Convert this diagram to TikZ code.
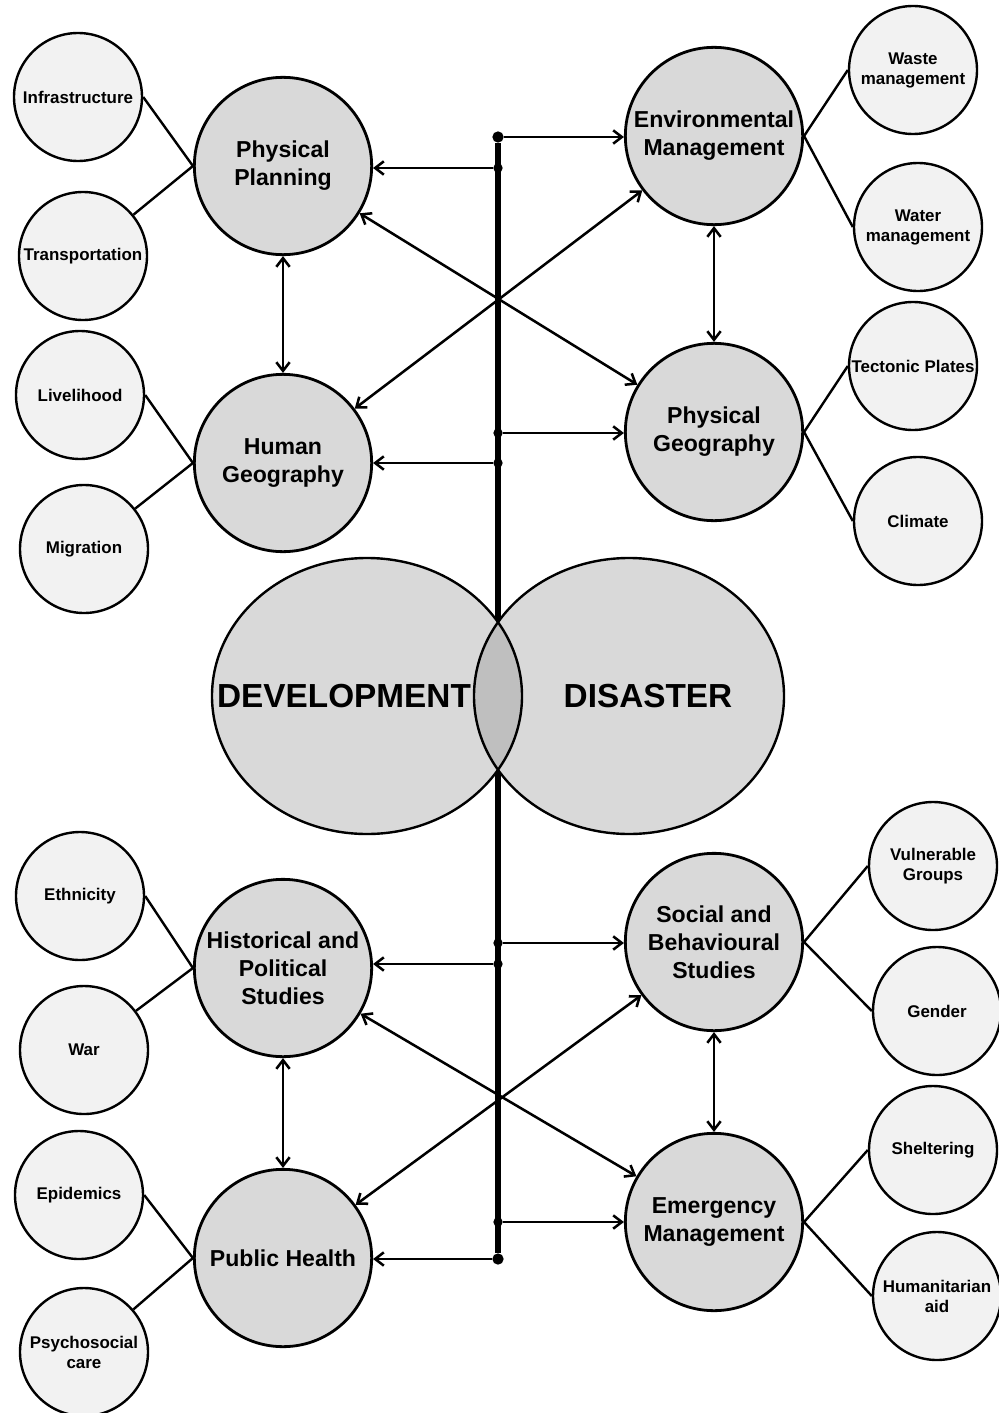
\documentclass[tikz,border=0pt]{standalone}
\usepackage{fontspec}
\setmainfont{Liberation Sans}
\usetikzlibrary{arrows.meta}

\definecolor{topicgray}{HTML}{D9D9D9}
\definecolor{subgray}{HTML}{F2F2F2}
\definecolor{lensgray}{HTML}{BFBFBF}

\begin{document}
\begin{tikzpicture}[
      x=0.75pt, y=-0.75pt,
      topic/.style={draw, circle, line width=2.1pt, fill=topicgray, minimum size=133pt, inner sep=0pt, align=center, font=\fontsize{17.3}{21}\selectfont\bfseries},
      subtopic/.style={draw, circle, line width=1.8pt, fill=subgray, minimum size=96pt, inner sep=0pt, align=center, font=\fontsize{12.7}{15}\selectfont\bfseries},
      joint/.style={circle, fill=black, inner sep=0pt, minimum size=7pt},
      endjoint/.style={circle, fill=black, inner sep=0pt, minimum size=8.5pt},
      link/.style={line width=1.8pt},
      arrow/.style={line width=1.9pt, -{Straight Barb[length=6.5pt, width=10pt]}},
      darrow/.style={line width=1.9pt, {Straight Barb[length=6.5pt, width=10pt]}-{Straight Barb[length=6.5pt, width=10pt]}},
      spine/.style={line width=4.2pt},
      venn/.style={line width=1.8pt},
      title/.style={font=\fontsize{25}{30}\selectfont\bfseries}
    ]
      \useasboundingbox (0,0) rectangle (999,1413);

      \node[endjoint] (jtop) at (498,137) {};
      \node[joint] (j2) at (498,168) {};
      \node[joint] (j3) at (498,433) {};
      \node[joint] (j4) at (498,463) {};
      \node[joint] (j5) at (498,943) {};
      \node[joint] (j6) at (498,964) {};
      \node[joint] (j7) at (498,1222) {};
      \node[endjoint] (jbot) at (498,1259) {};
      \draw[spine] (jtop) -- (jbot);

      \coordinate (devc) at (367,696);
      \coordinate (disc) at (629,696);
      \fill[topicgray] (devc) ellipse [x radius=155, y radius=138];
      \fill[topicgray] (disc) ellipse [x radius=155, y radius=138];
      \begin{scope}
        \clip (devc) ellipse [x radius=155, y radius=138];
        \fill[lensgray] (disc) ellipse [x radius=155, y radius=138];
      \end{scope}
      \draw[venn] (devc) ellipse [x radius=155, y radius=138] (disc) ellipse [x radius=155, y radius=138];
      \node[title] (devtext) at (344,696) {DEVELOPMENT};
      \node[title] (distext) at (648,696) {DISASTER};

      \node[topic] (plan) at (283,166) {Physical\\Planning};
      \node[topic] (human) at (283,463) {Human\\Geography};
      \node[topic] (hist) at (283,968) {Historical and\\Political\\Studies};
      \node[topic] (health) at (283,1258) {Public Health};
      \node[topic] (envm) at (714,136) {Environmental\\Management};
      \node[topic] (physgeo) at (714,432) {Physical\\Geography};
      \node[topic] (social) at (714,942) {Social and\\Behavioural\\Studies};
      \node[topic] (emerg) at (714,1222) {Emergency\\Management};

      \node[subtopic] (infra) at (78,97) {Infrastructure};
      \node[subtopic] (transport) at (83,256) {Transportation};
      \node[subtopic] (liveli) at (80,395) {Livelihood};
      \node[subtopic] (migr) at (84,549) {Migration};
      \node[subtopic] (ethn) at (80,896) {Ethnicity};
      \node[subtopic] (war) at (84,1050) {War};
      \node[subtopic] (epid) at (79,1195) {Epidemics};
      \node[subtopic] (psycho) at (84,1352) {Psychosocial\\care};
      \node[subtopic] (waste) at (913,70) {Waste\\management};
      \node[subtopic] (water) at (918,227) {Water\\management};
      \node[subtopic] (tecto) at (913,366) {Tectonic Plates};
      \node[subtopic] (climate) at (918,521) {Climate};
      \node[subtopic] (vulner) at (933,866) {Vulnerable\\Groups};
      \node[subtopic] (gender) at (937,1011) {Gender};
      \node[subtopic] (shelter) at (933,1150) {Sheltering};
      \node[subtopic] (humanit) at (937,1296) {Humanitarian\\aid};

      \draw[arrow] (jtop) -- (jtop -| envm.west);
      \draw[arrow] (j2) -- (j2 -| plan.east);
      \draw[arrow] (j3) -- (j3 -| physgeo.west);
      \draw[arrow] (j4) -- (j4 -| human.east);
      \draw[arrow] (j5) -- (j5 -| social.west);
      \draw[arrow] (j6) -- (j6 -| hist.east);
      \draw[arrow] (j7) -- (j7 -| emerg.west);
      \draw[arrow] (jbot) -- (jbot -| health.east);

      \draw[darrow] (plan) -- (human);
      \draw[darrow] (envm) -- (physgeo);
      \draw[darrow] (plan) -- (physgeo);
      \draw[darrow] (human) -- (envm);
      \draw[darrow] (hist) -- (health);
      \draw[darrow] (social) -- (emerg);
      \draw[darrow] (hist) -- (emerg);
      \draw[darrow] (health) -- (social);

      \draw[link] (infra.east) -- (plan.west);
      \draw[link] (transport) -- (plan.west);
      \draw[link] (liveli.east) -- (human.west);
      \draw[link] (migr) -- (human.west);
      \draw[link] (ethn.east) -- (hist.west);
      \draw[link] (war) -- (hist.west);
      \draw[link] (epid.east) -- (health.west);
      \draw[link] (psycho) -- (health.west);
      \draw[link] (envm.east) -- (waste.west);
      \draw[link] (envm.east) -- (water.west);
      \draw[link] (physgeo.east) -- (tecto.west);
      \draw[link] (physgeo.east) -- (climate.west);
      \draw[link] (social.east) -- (vulner.west);
      \draw[link] (social.east) -- (gender.west);
      \draw[link] (emerg.east) -- (shelter.west);
      \draw[link] (emerg.east) -- (humanit.west);
    \end{tikzpicture}
\end{document}
